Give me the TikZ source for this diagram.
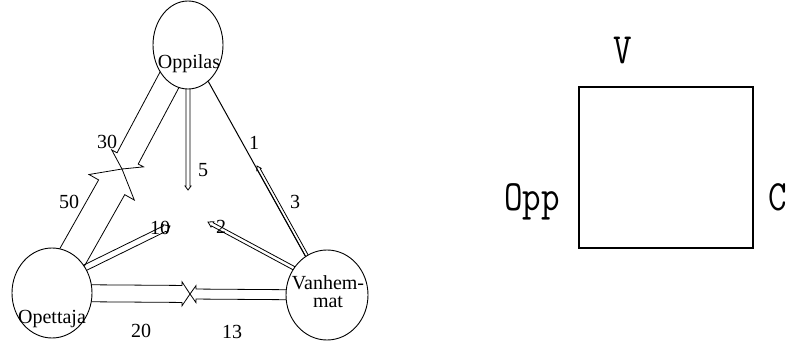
\documentclass[tikz,border=0pt]{standalone}
\usepackage{fontspec}
\setmainfont{Liberation Serif}
\usepackage{tikz}
\usetikzlibrary{calc,shapes.geometric}
\newcommand{\hollowarrow}[5]{%
  \coordinate (hb) at ($(#2)!#5!(#1)$);
  \draw[flow] ($(#1)!#3!90:(#2)$) -- ($(hb)!#3!90:(#2)$) -- ($(hb)!#4!90:(#2)$) -- (#2)
    -- ($(hb)!#4!-90:(#2)$) -- ($(hb)!#3!-90:(#2)$) -- ($(#1)!#3!-90:(#2)$);
}
\newcommand{\tallmono}[1]{\scalebox{1}[1.2]{\ttfamily\fontsize{36}{36}\selectfont #1}}

\begin{document}
\begin{tikzpicture}[x=1pt,y=-1pt,font=\fontsize{20}{18}\selectfont,
    person/.style={ellipse,draw,fill=white,line width=0.9pt,inner sep=0pt},
    flow/.style={line width=0.8pt,line join=miter},
    num/.style={inner sep=0pt},
    who/.style={inner sep=0pt,anchor=base,align=center},
    side/.style={inner sep=0pt,anchor=base}]
  \useasboundingbox (0,0) rectangle (787,342);
  \clip (0,0) rectangle (787,342);
  \coordinate (oppc) at (188,45);
  \coordinate (optc) at (52,293);
  \coordinate (vanc) at (327,295);
  \coordinate (xa) at (122,169);
  \coordinate (xb) at (190,294);
  \coordinate (optup) at ($(optc)+(0,-9)$);
  \coordinate (vanup) at ($(vanc)+(0,-9)$);
  \coordinate (vanoff) at ($(vanc)+(1.3,-0.7)$);
  \coordinate (tip5) at (188,190);
  \coordinate (tip10) at (170,226);
  \coordinate (tip2) at (208,222);
  \coordinate (tip3) at (257,166);
  \hollowarrow{oppc}{xa}{12pt}{18pt}{12pt}
  \hollowarrow{optc}{xa}{15pt}{26pt}{21pt}
  \hollowarrow{optc}{xb}{8.5pt}{12pt}{8pt}
  \hollowarrow{vanc}{xb}{5pt}{8.5pt}{6pt}
  \hollowarrow{oppc}{tip5}{2pt}{3pt}{4pt}
  \hollowarrow{optup}{tip10}{3pt}{4.5pt}{6pt}
  \hollowarrow{vanup}{tip2}{1.8pt}{3pt}{5pt}
  \hollowarrow{vanoff}{tip3}{1.5pt}{2.5pt}{4pt}
  \node[person,minimum width=70pt,minimum height=88pt] (opp) at (oppc) {};
  \node[person,minimum width=80pt,minimum height=90pt] (opt) at (optc) {};
  \node[person,minimum width=82pt,minimum height=90pt] (van) at (vanc) {};
  \draw[line width=1pt] (opp) -- (van);
  \node[who] (oppname) at (189,69) {Oppilas};
  \node[who] (optname) at (52,323) {Opettaja};
  \node[who] (vanname) at (328,307) {Vanhem-\\mat};
  \node[num] (w30) at (107,142) {30};
  \node[num] (w50) at (69,202) {50};
  \node[num] (w5) at (203,170) {5};
  \node[num] (w1) at (254,143) {1};
  \node[num] (w3) at (295,202) {3};
  \node[num] (w10) at (160,228) {10};
  \node[num] (w2) at (221,227) {2};
  \node[num] (w20) at (141,331) {20};
  \node[num] (w13) at (232,332) {13};
  \node[draw,line width=1.8pt,minimum width=174pt,minimum height=161pt,inner sep=0pt] (sq) at (666,167.5) {};
  \node[side] (vlab) at (623,64) {\tallmono{V}};
  \node[side] (opplab) at (532,210) {\tallmono{Opp}};
  \node[side,anchor=base west] (clab) at (768,210) {\tallmono{C}};
\end{tikzpicture}
\end{document}
